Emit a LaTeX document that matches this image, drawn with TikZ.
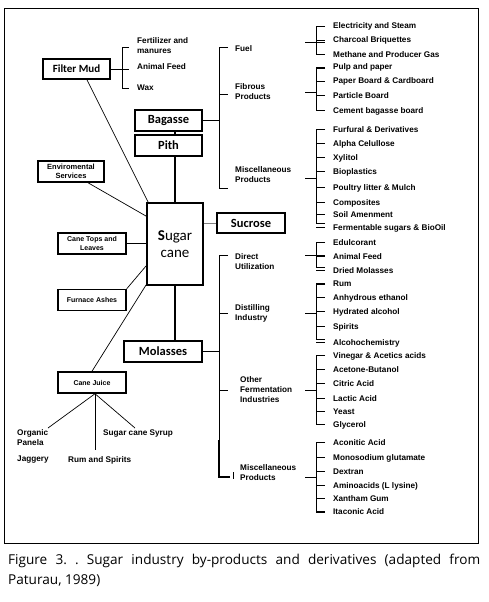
\documentclass[tikz,border=0pt]{standalone}
\usepackage{fontspec}
\setmainfont{Liberation Sans}
\newfontfamily\calfont{Carlito}
\newfontfamily\capfont{Open Sans}
\frenchspacing
\tikzset{
  bigbox/.style={draw, line width=1.8pt, fill=white, inner sep=0pt,
    font=\calfont\bfseries\fontsize{12.5}{14}\selectfont},
  sbox/.style={draw, line width=1.5pt, fill=white, inner sep=0pt, align=center,
    minimum width=68pt, minimum height=21pt,
    font=\bfseries\fontsize{7}{8.5}\selectfont},
  lbl/.style={inner sep=0pt, align=left, font=\bfseries\fontsize{8.2}{10}\selectfont},
  link/.style={line width=0.7pt},
  brk/.style={line width=0.6pt},
}
\newcommand\subbrk[3]{% stub y, top y, bottom y
  \draw[brk] (325,#2) -- (316,#2) -- (316,#3) -- (325,#3);
  \draw[brk] (305,#1) -- (316,#1);}
\newcommand\itm[2]{%
  \node[lbl, anchor=base west] (it#1) at (333,{#1+3}) {#2};
  \draw[brk] (316,#1) -- (325,#1);}
\begin{document}
\begin{tikzpicture}[x=1pt,y=-1pt]
\useasboundingbox (0,0) rectangle (488,602);
\draw[line width=0.9pt] (4,8) rectangle (478,543);

\node[bigbox, minimum width=56pt, minimum height=82pt, align=center,
  font=\calfont\fontsize{15}{17}\selectfont] (sc) at (175,244) {\textbf{S}ugar\\cane};
\node[bigbox, minimum width=67pt, minimum height=20pt, font=\calfont\bfseries\fontsize{11}{13}\selectfont] (fm) at (76.5,69) {Filter Mud};
\node[bigbox, minimum width=67pt, minimum height=21pt] (bag) at (168.5,120.5) {Bagasse};
\node[bigbox, minimum width=67pt, minimum height=21pt] (pith) at (168.5,145.5) {Pith};
\node[bigbox, minimum width=68pt, minimum height=20pt] (suc) at (251,223) {Sucrose};
\node[bigbox, minimum width=78pt, minimum height=21pt] (mol) at (163,351.5) {Molasses};
\node[sbox, minimum width=66pt, font=\bfseries\fontsize{7.5}{9}\selectfont] (env) at (71,171.5) {Enviromental\\Services};
\node[sbox] (ctl) at (92,243.5) {Cane Tops and\\Leaves};
\node[sbox] (fa) at (92,300) {Furnace Ashes};
\node[sbox] (cj) at (92,382.5) {Cane Juice};

\draw[line width=1.2pt] (sc.north) -- (sc.north |- pith.south);
\draw[line width=1.2pt] (sc.north |- pith.north) -- (sc.north |- bag.south);
\draw[line width=1.2pt] (sc.south) -- (sc.south |- mol.north);
\draw[link, gray] (sc.east |- suc.west) -- (suc.west);
\draw[link] ([xshift=10.5pt]fm.south) -- ([xshift=2pt]sc.north west);
\draw[link] ([xshift=17pt]env.south) -- ([yshift=-14pt]sc.north west);
\draw[link] (ctl.east) -- (ctl.east -| sc.west);
\draw[link] (fa.north east) -- ([yshift=20pt]sc.south west);
\draw[link] (cj.north) -- ([yshift=1pt]sc.south west);

% Filter mud bracket
\draw[link] (fm.east) -- (129,69);
\draw[brk] (129,47) -- (122,47) -- (122,88) -- (129,88);
\node[lbl, anchor=west] (fert) at (137,45.5) {Fertilizer and\\manures};
\node[lbl, anchor=base west] (afm) at (137,70) {Animal Feed};
\node[lbl, anchor=base west] (wax) at (137,90) {Wax};

% Bagasse bracket
\draw[link] (bag.east) -- (219,120.5);
\draw[brk] (228,47) -- (219,47) -- (219,188) -- (228,188);
\draw[brk] (219,94) -- (228,94);
\node[lbl, anchor=base west] (fuel) at (235,52) {Fuel};
\node[lbl, anchor=west] (fib) at (235,92) {Fibrous\\Products};
\node[lbl, anchor=west] (mscb) at (235,175) {Miscellaneous\\Products};

\subbrk{42}{26}{54}
\draw[brk] (316,42) -- (325,42);
\itm{26}{Electricity and Steam}
\itm{40}{Charcoal Briquettes}
\itm{54}{Methane and Producer Gas}

\subbrk{92}{68}{110}
\itm{67}{Pulp and paper}
\itm{81}{Paper Board \& Cardboard}
\itm{95}{Particle Board}
\itm{110}{Cement bagasse board}

\subbrk{178}{129}{223}
\itm{129}{Furfural \& Derivatives}
\itm{143}{Alpha Celullose}
\itm{157}{Xylitol}
\itm{171}{Bioplastics}
\itm{187}{Poultry litter \& Mulch}
\itm{202}{Composites}
\itm{214}{Soil Amenment}
\itm{227}{Fermentable sugars \& BioOil}

% Molasses bracket
\draw[link] (mol.east) -- (219,351.5);
\draw[brk] (228,255) -- (219,255) -- (219,440);
\draw[line width=1.2pt] (219,440) -- (219,477) -- (230,477);
\draw[brk] (233,472) -- (233,479);
\draw[brk] (219,313) -- (228,313);
\draw[brk] (219,390) -- (228,390);
\node[lbl, anchor=west] (dir) at (235,262) {Direct\\Utilization};
\node[lbl, anchor=west] (dist) at (235,313.5) {Distilling\\Industry};
\node[lbl, anchor=west] (oth) at (240,390) {Other\\Fermentation\\Industries};
\node[lbl, anchor=west] (mscm) at (240,473) {Miscellaneous\\Products};

\subbrk{255}{242}{267}
\draw[brk] (316,255) -- (325,255);
\itm{242}{Edulcorant}
\itm{256}{Animal Feed}
\itm{270}{Dried Molasses}

\subbrk{313}{284}{339}
\itm{283}{Rum}
\itm{297}{Anhydrous ethanol}
\itm{311}{Hydrated alcohol}
\itm{326}{Spirits}
\itm{342}{Alcohochemistry}

\subbrk{390}{355}{424}
\itm{355}{Vinegar \& Acetics acids}
\itm{369}{Acetone-Butanol}
\itm{383}{Citric Acid}
\itm{398}{Lactic Acid}
\itm{411}{Yeast}
\itm{424}{Glycerol}

\subbrk{477}{442}{512}
\itm{442}{Aconitic Acid}
\itm{457}{Monosodium glutamate}
\itm{471}{Dextran}
\itm{485}{Aminoacids (L lysine)}
\itm{498}{Xantham Gum}
\itm{511}{Itaconic Acid}

% Cane juice products
\node[lbl, anchor=west] (org) at (17,438) {Organic\\Panela};
\node[lbl, anchor=base west] (jag) at (17,461) {Jaggery};
\node[lbl, anchor=base west] (rum) at (68,462) {Rum and Spirits};
\node[lbl, anchor=base west] (syr) at (103,435) {Sugar cane Syrup};
\coordinate (cjb) at ([xshift=3pt]cj.south);
\draw[link] (cjb) -- (48,428);
\draw[link] (cjb) -- (95,450);
\draw[link] (cjb) -- (135,428);

% caption
\node[anchor=base west, inner sep=0pt, font=\capfont\fontsize{13.6}{16}\selectfont] (cap1) at (8,564)
  {\makebox[472pt][s]{Figure 3. . Sugar industry by-products and derivatives (adapted from}};
\node[anchor=base west, inner sep=0pt, font=\capfont\fontsize{13.6}{16}\selectfont] (cap2) at (8,584)
  {Paturau, 1989)};
\end{tikzpicture}
\end{document}
